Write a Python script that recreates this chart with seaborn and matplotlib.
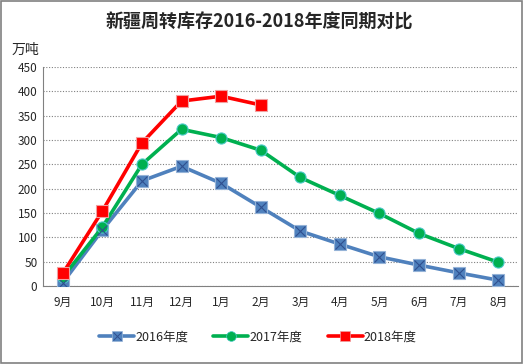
import matplotlib
matplotlib.use("Agg")
import matplotlib.pyplot as plt
import seaborn as sns
import pandas as pd
from matplotlib.lines import Line2D
from matplotlib.legend_handler import HandlerTuple

months = ["9月", "10月", "11月", "12月", "1月", "2月", "3月", "4月", "5月", "6月", "7月", "8月"]
s2016 = [7, 115, 216, 246, 211, 162, 113, 86, 60, 43, 27, 12]
s2017 = [18, 121, 250, 322, 305, 279, 223, 186, 149, 108, 77, 49]
s2018 = [26, 154, 294, 380, 390, 372]
series_names = ["2016年度", "2017年度", "2018年度"]
title = "新疆周转库存2016-2018年度同期对比"
unit = "万吨"
yticks = [0, 50, 100, 150, 200, 250, 300, 350, 400, 450]

sns.set_theme(style="white")
plt.rcParams['font.family'] = ['Noto Sans CJK SC', 'DejaVu Sans']

rows = []
for name, vals in zip(series_names, [s2016, s2017, s2018]):
    for i, v in enumerate(vals):
        rows.append({"x": i, "month": months[i], "value": v, "series": name})
df = pd.DataFrame(rows)

fig = plt.figure(figsize=(5.24, 3.64), dpi=100)
ax = fig.add_axes([43/524, (364-286)/364, (518-43)/524, (286-67)/364])

colors = {"2016年度": "#4F81BD", "2017年度": "#00B050", "2018年度": "#FF0000"}

d = df[df.series == "2016年度"]
sns.lineplot(data=d, x="x", y="value", ax=ax, color=colors["2016年度"], lw=2.6,
             marker="s", markersize=8, markerfacecolor="#4F81BD",
             markeredgecolor="#95B3D7", markeredgewidth=0.8, zorder=3)
ax.plot(d["x"], d["value"], ls="none", marker="x", markersize=7,
        markeredgecolor="#2F4F8F", markeredgewidth=0.8, zorder=4)
d = df[df.series == "2017年度"]
sns.lineplot(data=d, x="x", y="value", ax=ax, color=colors["2017年度"], lw=2.6,
             marker="o", markersize=8, markerfacecolor="#00B050",
             markeredgecolor="#4BC9C8", markeredgewidth=0.8, zorder=3)
d = df[df.series == "2018年度"]
sns.lineplot(data=d, x="x", y="value", ax=ax, color=colors["2018年度"], lw=2.6,
             marker="s", markersize=9, markerfacecolor="#FF0000",
             markeredgecolor="#F0A0A0", markeredgewidth=0.8, zorder=5)

ax.set_xlim(-0.5, 11.5)
ax.set_ylim(0, 450)
ax.set_yticks(yticks)
ax.set_xticks(range(len(months)))
ax.set_xticklabels(months, fontsize=8.5)
ax.tick_params(axis='y', labelsize=8.5, length=0, pad=4)
ax.tick_params(axis='x', length=0, pad=7)
ax.set_xlabel("")
ax.set_ylabel("")
ax.yaxis.grid(True, linestyle=(0, (1, 1.5)), color="#808080", lw=0.8)
ax.xaxis.grid(False)
for s in ["top", "right"]:
    ax.spines[s].set_visible(False)
for s in ["left", "bottom"]:
    ax.spines[s].set_color("#808080")
    ax.spines[s].set_linewidth(0.8)

fig.text(259/524, 1 - 22/364, title, ha="center", va="center", fontsize=13, fontweight="bold")
fig.text(12/524, 1 - 50/364, unit, ha="left", va="center", fontsize=10)

h16a = Line2D([], [], color=colors["2016年度"], lw=2.6, marker="s", markersize=7,
              markerfacecolor="#4F81BD", markeredgecolor="#95B3D7", markeredgewidth=0.5)
h16b = Line2D([], [], ls="none", marker="x", markersize=6, markeredgecolor="#2F4F8F", markeredgewidth=0.7)
h17 = Line2D([], [], color=colors["2017年度"], lw=2.6, marker="o", markersize=7,
             markerfacecolor="#00B050", markeredgecolor="#4BC9C8", markeredgewidth=0.5)
h18 = Line2D([], [], color=colors["2018年度"], lw=2.6, marker="s", markersize=7,
             markerfacecolor="#FF0000", markeredgecolor="#F0A0A0", markeredgewidth=0.5)
fig.legend([(h16a, h16b), h17, h18], series_names, loc="center",
           bbox_to_anchor=(258/524, 1 - 337/364), ncol=3,
           handler_map={tuple: HandlerTuple(ndivide=1, pad=0)},
           frameon=False, fontsize=9, handlelength=2.8, handletextpad=0.1, columnspacing=2.0)

border = plt.Rectangle((0.002, 0.003), 0.995, 0.994, transform=fig.transFigure, fill=False,
                       edgecolor="#808080", lw=1.2)
fig.patches.append(border)

fig.savefig("out.png", dpi=100)
